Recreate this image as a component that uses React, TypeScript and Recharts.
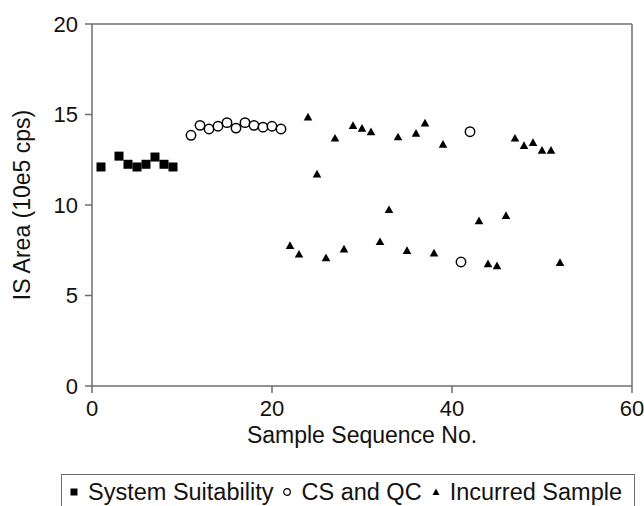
import React from 'react';
import { ScatterChart, Scatter, XAxis, YAxis, Legend, ReferenceLine } from 'recharts';

const seriesNames = ['System Suitability', 'CS and QC', 'Incurred Sample'];

const systemX = [1, 3, 4, 5, 6, 7, 8, 9];
const systemY = [12.1, 12.7, 12.25, 12.1, 12.25, 12.65, 12.25, 12.1];

const csqcX = [11, 12, 13, 14, 15, 16, 17, 18, 19, 20, 21, 41, 42];
const csqcY = [13.85, 14.4, 14.2, 14.35, 14.55, 14.25, 14.55, 14.4, 14.3, 14.35, 14.2, 6.85, 14.05];

const incurredX = [22, 23, 24, 25, 26, 27, 28, 29, 30, 31, 32, 33, 34, 35, 36, 37, 38, 39, 43, 44, 45, 46, 47, 48, 49, 50, 51, 52];
const incurredY = [7.75, 7.27, 14.85, 11.7, 7.07, 13.68, 7.55, 14.38, 14.23, 14.03, 7.96, 9.73, 13.75, 7.47, 13.95, 14.52, 7.33, 13.34, 9.12, 6.74, 6.63, 9.4, 13.68, 13.27, 13.44, 13.01, 13.01, 6.81];

const xTicks = [0, 20, 40, 60];
const yTicks = [0, 5, 10, 15, 20];

const zip = (xs: number[], ys: number[]) => xs.map((x, i) => ({ x, y: ys[i] }));
const systemData = zip(systemX, systemY);
const csqcData = zip(csqcX, csqcY);
const incurredData = zip(incurredX, incurredY);

const FONT = 'Arial, "Liberation Sans", sans-serif';
const AXIS = '#6e6e6e';

const SquareShape = (p: any) => (
  <rect x={p.cx - 4.5} y={p.cy - 4.5} width={9} height={9} fill="#000" />
);
const CircleShape = (p: any) => (
  <circle cx={p.cx} cy={p.cy} r={4.7} fill="#fff" stroke="#000" strokeWidth={1.5} />
);
const TriangleShape = (p: any) => (
  <path d={`M${p.cx},${p.cy - 4.5}L${p.cx + 4.3},${p.cy + 3.2}L${p.cx - 4.3},${p.cy + 3.2}Z`} fill="#000" />
);

const LegendIcon = ({ i }: { i: number }) => (
  <svg width={10} height={10} style={{ marginRight: 9, flex: 'none' }}>
    {i === 0 && <rect x={1.5} y={1.5} width={7} height={7} fill="#000" />}
    {i === 1 && <circle cx={5} cy={5} r={3.3} fill="#fff" stroke="#000" strokeWidth={1.2} />}
    {i === 2 && <path d="M5,1.5L8.5,8L1.5,8Z" fill="#000" />}
  </svg>
);

const LegendBox = () => (
  <div
    style={{
      boxSizing: 'border-box',
      width: '100%',
      height: 40,
      border: `1.5px solid ${AXIS}`,
      display: 'flex',
      alignItems: 'center',
      paddingLeft: 7,
      paddingBottom: 4,
      fontFamily: FONT,
      fontSize: 23.5,
      color: '#111',
      whiteSpace: 'nowrap',
    }}
  >
    {seriesNames.map((n, i) => (
      <span key={n} style={{ display: 'flex', alignItems: 'center', marginRight: 9 }}>
        <LegendIcon i={i} />
        {n}
      </span>
    ))}
  </div>
);

const YLabel = (p: any) => {
  const vb = p.viewBox || { x: 0, y: 24, width: 92, height: 362 };
  const cx = vb.x + 22;
  const cy = vb.y + vb.height / 2;
  return (
    <text
      x={cx}
      y={cy}
      transform={`rotate(-90 ${cx} ${cy})`}
      textAnchor="middle"
      dominantBaseline="central"
      fontSize={23}
      fontFamily={FONT}
      fill="#111"
    >
      IS Area (10e5 cps)
    </text>
  );
};

export default function App() {
  return (
    <div style={{ position: 'absolute', left: 0, top: 0 }}>
      <ScatterChart width={644} height={506} margin={{ top: 24, right: 12, left: 0, bottom: 0 }}>
        <XAxis
          type="number"
          dataKey="x"
          domain={[0, 60]}
          ticks={xTicks}
          tickSize={7}
          tickMargin={7}
          height={120}
          stroke={AXIS}
          strokeWidth={1.5}
          tick={{ fill: '#111', fontSize: 22, fontFamily: FONT }}
          tickLine={{ stroke: AXIS, strokeWidth: 1.5 }}
          label={{ value: 'Sample Sequence No.', position: 'insideTop', offset: 41, fontSize: 23, fontFamily: FONT, fill: '#111' }}
        />
        <YAxis
          type="number"
          dataKey="y"
          domain={[0, 20]}
          ticks={yTicks}
          tickSize={7}
          tickMargin={7}
          width={92}
          stroke={AXIS}
          strokeWidth={1.5}
          tick={{ fill: '#111', fontSize: 22, fontFamily: FONT }}
          tickLine={{ stroke: AXIS, strokeWidth: 1.5 }}
          label={{ content: YLabel }}
        />
        <ReferenceLine y={20} stroke={AXIS} strokeWidth={1.5} ifOverflow="visible" />
        <ReferenceLine x={60} stroke={AXIS} strokeWidth={1.5} ifOverflow="visible" />
        <Scatter name={seriesNames[0]} data={systemData} fill="#000" shape={SquareShape} isAnimationActive={false} />
        <Scatter name={seriesNames[1]} data={csqcData} fill="#000" shape={CircleShape} isAnimationActive={false} />
        <Scatter name={seriesNames[2]} data={incurredData} fill="#000" shape={TriangleShape} isAnimationActive={false} />
        <Legend
          layout="horizontal"
          verticalAlign="middle"
          align="center"
          content={<LegendBox />}
          wrapperStyle={{ left: 61, top: 474, width: 574, height: 40 }}
        />
      </ScatterChart>
    </div>
  );
}
